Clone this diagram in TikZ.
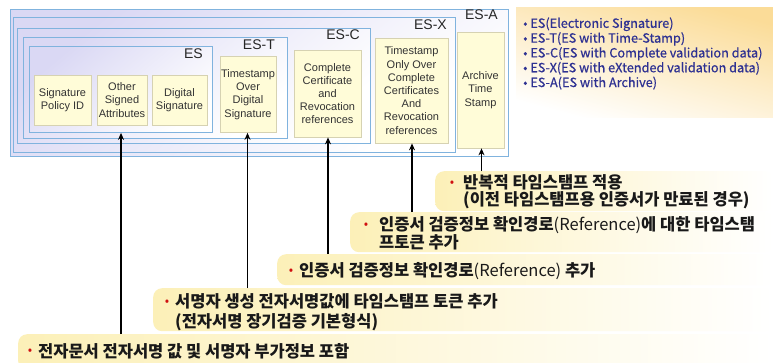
\documentclass[tikz,border=0pt]{standalone}
\usepackage{fontspec}
\setmainfont{Liberation Sans}
\newfontfamily\kr{Noto Sans CJK KR}
\newfontfamily\krleg{Noto Sans CJK KR}[BoldFont={Noto Sans CJK KR}, BoldFeatures={FakeBold=0.6}]
\usetikzlibrary{arrows.meta}

\definecolor{frameblue}{HTML}{80B3DE}
\definecolor{lav}{HTML}{DAD8F4}
\definecolor{cellfill}{HTML}{FFFCD8}
\definecolor{celledge}{HTML}{D6D2B2}
\definecolor{noteyellow}{HTML}{FCF0B8}
\definecolor{legendorange}{HTML}{FBDC98}
\definecolor{legendblue}{HTML}{2E3192}
\definecolor{bulletred}{HTML}{D01010}
\definecolor{celltext}{HTML}{333333}

\begin{document}
\begin{tikzpicture}[x=1pt,y=-1pt,
  frame/.style={draw=frameblue, line width=0.9pt, top color=lav, bottom color=white,
    shading angle=40, anchor=north west, inner sep=0pt},
  framelabel/.style={anchor=east, inner sep=0pt, font=\fontsize{14}{14}\selectfont, text=black!85},
  cell/.style={draw=celledge, line width=0.7pt, fill=cellfill, inner sep=0pt, align=center,
    text=celltext, font=\fontsize{11}{13.2}\selectfont},
  note/.style={rounded corners=9pt, left color=noteyellow, right color=white, draw=none,
    anchor=north west, inner sep=0pt},
  notetext/.style={anchor=west, inner sep=0pt, align=left, text=black!90},
  dot/.style={inner sep=0pt, text=bulletred, font=\kr\fontsize{13}{13}\selectfont},
  link/.style={line width=1.6pt, -{Stealth[length=7pt,width=6pt]}},
]
\useasboundingbox[fill=white] (0,0) rectangle (773,362);

% legend panel
\node[anchor=north west, inner sep=0pt, minimum width=257pt, minimum height=110pt,
  top color=legendorange, bottom color=white, shading angle=-15] (legbox) at (516,7) {};
\node[anchor=west, inner sep=0pt, align=left, text=legendblue,
  font=\krleg\bfseries\fontsize{12.7}{14.8}\selectfont] (legtext) at (523,53.5)
  {• ES(Electronic Signature)\\
   • ES-T(ES with Time-Stamp)\\
   • ES-C(ES with Complete validation data)\\
   • ES-X(ES with eXtended validation data)\\
   • ES-A(ES with Archive)};

% nested signature formats
\node[frame, minimum width=498pt, minimum height=147pt] (esA) at (10,9) {};
\node[frame, minimum width=442pt, minimum height=135pt] (esX) at (13,17) {};
\node[frame, minimum width=353pt, minimum height=115pt] (esC) at (17,28) {};
\node[frame, minimum width=264pt, minimum height=101pt] (esT) at (23,37) {};
\node[frame, minimum width=183pt, minimum height=86pt] (es) at (29,46) {};

\node[framelabel] (labA) at (498,15) {ES-A};
\node[framelabel] (labX) at (447,25) {ES-X};
\node[framelabel] (labC) at (360,35) {ES-C};
\node[framelabel] (labT) at (275,45) {ES-T};
\node[framelabel] (labES) at (203,54) {ES};

% data elements
\node[cell, minimum width=57pt, minimum height=50pt] (spid) at (62.5,100) {Signature\\Policy ID};
\node[cell, minimum width=50pt, minimum height=50pt] (osa) at (122,100) {Other\\Signed\\Attributes};
\node[cell, minimum width=55pt, minimum height=50pt] (dsig) at (179.5,100) {Digital\\Signature};
\node[cell, minimum width=56pt, minimum height=76pt] (tsover) at (248,94.5) {Timestamp\\Over\\Digital\\Signature};
\node[cell, minimum width=67pt, minimum height=87pt] (compl) at (327.5,93.5) {Complete\\Certificate\\and\\Revocation\\references};
\node[cell, minimum width=73pt, minimum height=105pt] (tsonly) at (411.5,90.5) {Timestamp\\Only Over\\Complete\\Certificates\\And\\Revocation\\references};
\node[cell, minimum width=47pt, minimum height=116pt] (arch) at (480.5,90) {Archive\\Time\\Stamp};

% explanatory notes
\node[note, minimum width=338pt, minimum height=40pt] (nA) at (435,171) {};
\node[note, minimum width=423pt, minimum height=40pt] (nB) at (350,212) {};
\node[note, minimum width=496pt, minimum height=31pt] (nC) at (277,254) {};
\node[note, minimum width=620pt, minimum height=43pt] (nD) at (153,288) {};
\node[note, minimum width=755pt, minimum height=36pt] (nE) at (18,334) {};

\node[dot] (bA) at (452,184) {•};
\node[notetext, font=\kr\bfseries\fontsize{16.5}{17.5}\selectfont] (tA) at (463,191.5)
  {반복적 타임스탬프 적용\\(이전 타임스탬프용 인증서가 만료된 경우)};
\node[dot] (bB) at (366,226) {•};
\node[notetext, font=\kr\bfseries\fontsize{16.5}{17.5}\selectfont] (tB) at (379,233.5)
  {인증서 검증정보 확인경로{\mdseries(Reference)}에 대한 타임스탬\\프토큰 추가};
\node[dot] (bC) at (291,272) {•};
\node[notetext, font=\kr\bfseries\fontsize{16.5}{17.5}\selectfont] (tC) at (299,271)
  {인증서 검증정보 확인경로{\mdseries(Reference)} 추가};
\node[dot] (bD) at (167,303) {•};
\node[notetext, font=\kr\bfseries\fontsize{16.5}{19.5}\selectfont] (tD) at (175,312)
  {서명자 생성 전자서명값에 타임스탬프 토큰 추가\\(전자서명 장기검증 기본형식)};
\node[dot] (bE) at (30,352) {•};
\node[notetext, font=\kr\bfseries\fontsize{16.5}{17.5}\selectfont] (tE) at (38,351)
  {전자문서 전자서명 값 및 서명자 부가정보 포함};

% pointers from notes to the elements they describe
\coordinate (x1) at (121,0);
\coordinate (x2) at (247.5,0);
\coordinate (x3) at (328,0);
\coordinate (x4) at (412,0);
\coordinate (x5) at (481.5,0);
\draw[link] (nE.north -| x1) -- (es.south -| x1);
\draw[link] (nD.north -| x2) -- (tsover.south -| x2);
\draw[link] (nC.north -| x3) -- (compl.south -| x3);
\draw[link] (nB.north -| x4) -- (tsonly.south -| x4);
\draw[link] (nA.north -| x5) -- (arch.south -| x5);
\end{tikzpicture}
\end{document}
